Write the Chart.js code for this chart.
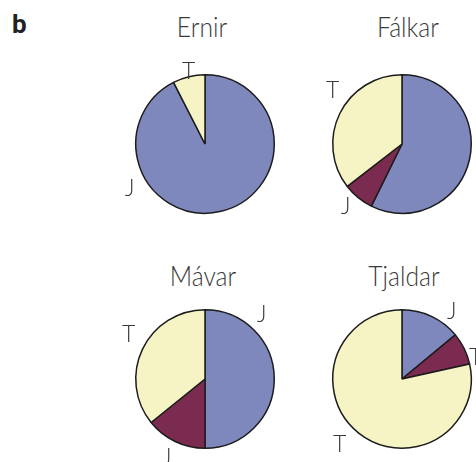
<!DOCTYPE html>
<html>
<head>
<meta charset="utf-8">
<script src="https://cdn.jsdelivr.net/npm/chart.js@4"></script>
<style>
  html, body { margin: 0; padding: 0; background: #fff; }
  #wrap { position: relative; width: 476px; height: 462px; overflow: hidden; font-family: Lato, Roboto, sans-serif; }
  canvas { position: absolute; }
  .t { position: absolute; line-height: 1; white-space: nowrap; color: #3a3a3a; font-weight: 300; }
  .title { font-size: 28px; transform: translateX(-50%) scaleX(0.88); }
  .lab { font-size: 23px; }
  .panel { font-size: 26px; font-weight: 700; color: #222; font-family: Roboto, sans-serif; }
</style>
</head>
<body>
<div id="wrap">
  <div class="t panel" style="left:12px; top:11px;">b</div>
</div>
<script>
// Data
const pieNames = ["Ernir", "Fálkar", "Mávar", "Tjaldar"];
const categories = ["Blár hluti", "Rauður hluti", "Gulur hluti"];
const ernirValues   = [92.5, 0,    7.5];
const falkarValues  = [57.3, 7.2,  35.5];
const mavarValues   = [50.0, 14.2, 35.8];
const tjaldarValues = [14.0, 7.5,  78.5];
const sliceColors = ["#7f88bd", "#7b2b50", "#f6f4c4"];

// Layout (not data)
const panels = [
  { name: pieNames[0], values: ernirValues,   cx: 205, cy: 144, titleX: 202, titleTop: 12,
    labels: [["T", 182, 59], ["J", 125, 176]] },
  { name: pieNames[1], values: falkarValues,  cx: 402, cy: 144, titleX: 408, titleTop: 12,
    labels: [["T", 326, 78], ["J", 341, 194]] },
  { name: pieNames[2], values: mavarValues,   cx: 205, cy: 379, titleX: 203, titleTop: 261,
    labels: [["T", 122, 322], ["J", 257, 302], ["J", 162, 445]] },
  { name: pieNames[3], values: tjaldarValues, cx: 402, cy: 379, titleX: 404, titleTop: 261,
    labels: [["J", 447, 299], ["T", 333, 432], ["T", 469, 345]] }
];

const wrap = document.getElementById('wrap');
const SIZE = 150;

panels.forEach(p => {
  const title = document.createElement('div');
  title.className = 't title';
  title.textContent = p.name;
  title.style.left = p.titleX + 'px';
  title.style.top = p.titleTop + 'px';
  wrap.appendChild(title);

  const cv = document.createElement('canvas');
  cv.width = SIZE; cv.height = SIZE;
  cv.style.left = (p.cx - SIZE / 2) + 'px';
  cv.style.top = (p.cy - SIZE / 2) + 'px';
  cv.style.width = SIZE + 'px'; cv.style.height = SIZE + 'px';
  wrap.appendChild(cv);

  new Chart(cv, {
    type: 'pie',
    data: {
      labels: categories,
      datasets: [{
        data: p.values,
        backgroundColor: sliceColors,
        borderColor: '#1c1c1c',
        borderWidth: 1.5,
        borderAlign: 'center'
      }]
    },
    options: {
      responsive: false,
      animation: false,
      layout: { padding: 5 },
      plugins: { legend: { display: false }, tooltip: { enabled: false }, title: { display: false } }
    }
  });

  p.labels.forEach(([txt, x, y]) => {
    const l = document.createElement('div');
    l.className = 't lab';
    l.textContent = txt;
    l.style.left = x + 'px';
    l.style.top = y + 'px';
    wrap.appendChild(l);
  });
});
</script>
</body>
</html>
